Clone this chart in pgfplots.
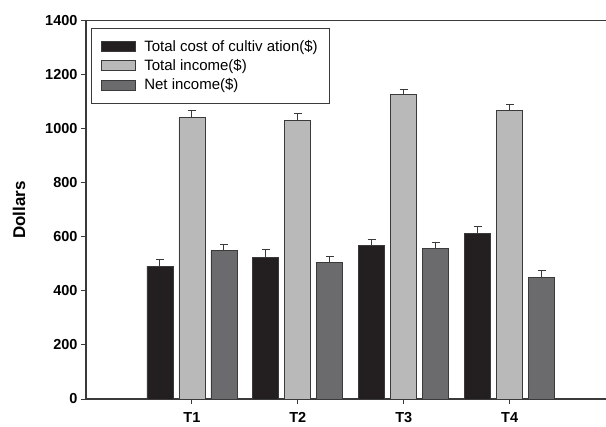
\documentclass[border=0pt]{standalone}
\usepackage{pgfplots}
\pgfplotsset{compat=1.18}
\usetikzlibrary{calc}
\usepackage{fontspec}
\setmainfont{Liberation Sans}
\definecolor{cCost}{HTML}{231F20}
\definecolor{cTotal}{HTML}{B9B9B9}
\definecolor{cNet}{HTML}{6B6B6D}
\definecolor{cAxis}{HTML}{3A3A3A}
\begin{document}
\begin{tikzpicture}
\begin{axis}[
  name=ax,
  scale only axis,
  width=520bp, height=378.3bp,
  xmin=0, xmax=4.91,
  ymin=0, ymax=1400,
  ybar=6bp, bar width=26bp,
  axis x line=box,
  axis y line=left,
  axis line style={-, cAxis, line width=1.2bp},
  xtick={1,2,3,4},
  xticklabels={T1,T2,T3,T4},
  ytick={0,200,400,600,800,1000,1200,1400},
  tick align=outside,
  tick pos=left,
  major tick length=5bp,
  tick style={cAxis, line width=1bp},
  /pgf/number format/assume math mode=true,
  /pgf/number format/1000 sep={},
  ticklabel style={font=\fontsize{14.5bp}{17bp}\selectfont\bfseries},
  xticklabel style={yshift=-5bp},
  ylabel={Dollars},
  ylabel style={font=\fontsize{17bp}{20bp}\selectfont\bfseries, at={(axis description cs:-0.1288,0.5)}, anchor=center},
  legend style={at={(rel axis cs:0,1)}, anchor=north west, xshift=5bp, yshift=-7.3bp,
    draw=cAxis, line width=1bp, inner xsep=10bp, inner ysep=10bp,
    font=\fontsize{15bp}{18bp}\selectfont, row sep=2.5bp,
    cells={anchor=west}},
  legend image code/.code={\draw[#1, line width=0.8bp] (0bp,-5bp) rectangle (34bp,5bp); \path (40bp,0bp);},
  clip=false,
]
\addplot[fill=cCost, draw=cAxis, line width=0.8bp,
  error bars/.cd, y dir=plus, y explicit, error mark options={cAxis, line width=1bp, mark size=4bp, rotate=90},
  error bar style={cAxis, line width=1bp}]
  coordinates {(1,492) +- (0,25) (2,524) +- (0,30) (3,569) +- (0,21) (4,614) +- (0,26)};
\addlegendentry{Total cost of cultiv ation(\$)}
\addplot[fill=cTotal, draw=cAxis, line width=0.8bp,
  error bars/.cd, y dir=plus, y explicit, error mark options={cAxis, line width=1bp, mark size=4bp, rotate=90},
  error bar style={cAxis, line width=1bp}]
  coordinates {(1,1041) +- (0,25) (2,1032) +- (0,25) (3,1127) +- (0,20) (4,1069) +- (0,20)};
\addlegendentry{Total income(\$)}
\addplot[fill=cNet, draw=cAxis, line width=0.8bp,
  error bars/.cd, y dir=plus, y explicit, error mark options={cAxis, line width=1bp, mark size=4bp, rotate=90},
  error bar style={cAxis, line width=1bp}]
  coordinates {(1,549) +- (0,23) (2,506) +- (0,22) (3,558) +- (0,20) (4,450) +- (0,24)};
\addlegendentry{Net income(\$)}
\end{axis}
\pgfresetboundingbox
\path[use as bounding box] ($(ax.south west)+(-86bp,-28bp)$) rectangle ($(ax.north east)+(0bp,20.7bp)$);
\end{tikzpicture}
\end{document}
